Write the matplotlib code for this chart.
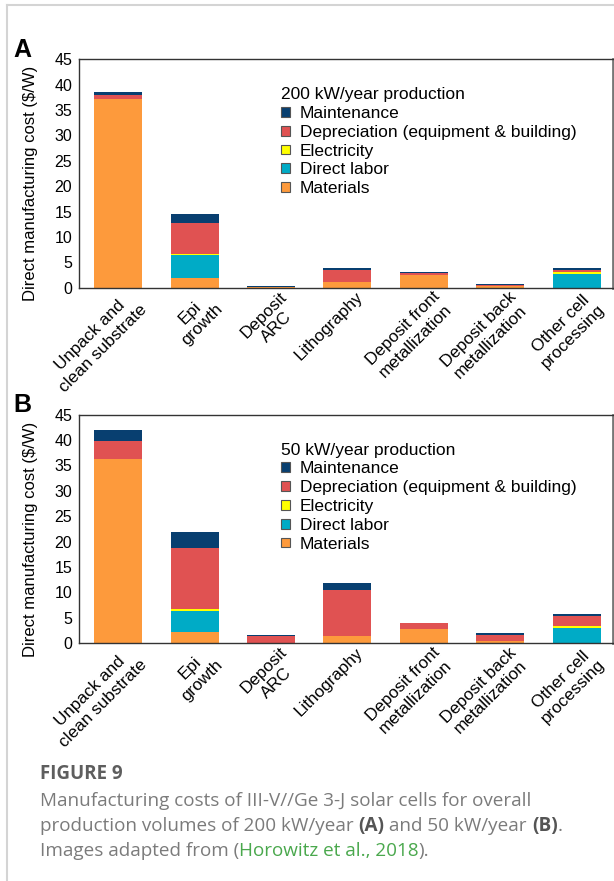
import matplotlib
matplotlib.use("Agg")
import matplotlib.pyplot as plt
from matplotlib.patches import Patch
from matplotlib.lines import Line2D
from matplotlib.transforms import ScaledTranslation
import numpy as np

plt.rcParams["font.family"] = ["Liberation Sans", "DejaVu Sans"]

categories = ["Unpack and\nclean substrate", "Epi\ngrowth", "Deposit\nARC", "Lithography",
              "Deposit front\nmetallization", "Deposit back\nmetallization", "Other cell\nprocessing"]

series = ["Materials", "Direct labor", "Electricity", "Depreciation (equipment & building)", "Maintenance"]
colors = ["#fd9a3c", "#00abc6", "#ffff00", "#e05252", "#083f70"]

# 200 kW/year production, $/W per step
a_materials = [37.2, 2.0, 0.05, 1.1, 2.6, 0.4, 0.0]
a_labor = [0.0, 4.4, 0.0, 0.0, 0.0, 0.0, 2.76]
a_electricity = [0.0, 0.2, 0.0, 0.0, 0.0, 0.0, 0.27]
a_depreciation = [0.8, 6.2, 0.15, 2.4, 0.2, 0.12, 0.39]
a_maintenance = [0.5, 1.7, 0.2, 0.4, 0.3, 0.2, 0.4]

# 50 kW/year production, $/W per step
b_materials = [36.3, 2.17, 0.0, 1.38, 2.76, 0.46, 0.0]
b_labor = [0.0, 4.2, 0.0, 0.0, 0.0, 0.0, 2.96]
b_electricity = [0.0, 0.33, 0.0, 0.0, 0.0, 0.0, 0.4]
b_depreciation = [3.6, 12.05, 1.38, 9.08, 1.24, 1.18, 2.04]
b_maintenance = [2.0, 3.15, 0.33, 1.44, 0.05, 0.33, 0.46]

W, H = 614, 881
fig = plt.figure(figsize=(W / 100, H / 100), dpi=100)


def px_axes(left, top, right, bottom):
    return fig.add_axes([left / W, 1 - bottom / H, (right - left) / W, (bottom - top) / H])


def draw_panel(ax, stacks, title, letter):
    x = np.arange(len(categories))
    base = np.zeros(len(categories))
    for vals, col in zip(stacks, colors):
        vals = np.array(vals)
        ax.bar(x, vals, 0.63, bottom=base, color=col, linewidth=0)
        base += vals
    ax.set_xlim(-0.51, 6.47)
    ax.set_ylim(0, 45)
    ax.set_yticks(range(0, 46, 5))
    ax.tick_params(axis="y", length=0, pad=5, labelsize=11.5)
    ax.tick_params(axis="x", length=0, pad=1)
    ax.set_xticks(x)
    ax.set_xticklabels(categories, rotation=45, ha="right", va="top",
                       rotation_mode="anchor", multialignment="center", fontsize=12.3)
    shift = ScaledTranslation(6 / 72, 0, fig.dpi_scale_trans)
    for lab in ax.get_xticklabels():
        lab.set_transform(lab.get_transform() + shift)
    for side in ["left", "bottom", "top"]:
        ax.spines[side].set_color("#333333")
        ax.spines[side].set_linewidth(1.0)
    ax.spines["right"].set_color("#777777")
    ax.spines["right"].set_linewidth(2.0)
    ax.set_ylabel("Direct manufacturing cost ($/W)", fontsize=12)
    ax.yaxis.set_label_coords(-0.077, 0.456)

    handles = [Patch(facecolor=c, edgecolor="#555555", linewidth=0.8)
               for c in colors[::-1]]
    ax.legend(handles, series[::-1], title=title, loc="upper left",
              bbox_to_anchor=(0.379, 0.878), frameon=False, fontsize=12.5,
              title_fontsize=12.5, handlelength=0.5, handleheight=0.5,
              handletextpad=0.55, labelspacing=0.22, borderpad=0,
              borderaxespad=0, alignment="left")
    ax.text(-0.124, 1.011, letter, transform=ax.transAxes, fontsize=18,
            fontweight="bold", ha="left", va="baseline")


ax_a = px_axes(79.3, 59.3, 612.5, 287.7)
draw_panel(ax_a, [a_materials, a_labor, a_electricity, a_depreciation, a_maintenance],
           "200 kW/year production", "A")

ax_b = px_axes(79.3, 414.7, 612.5, 643.3)
draw_panel(ax_b, [b_materials, b_labor, b_electricity, b_depreciation, b_maintenance],
           "50 kW/year production", "B")

# page frame lines
fig.add_artist(Line2D([7 / W, 613 / W], [1 - 5 / H, 1 - 5 / H], color="#d4d4d4", linewidth=1.5))
fig.add_artist(Line2D([7 / W, 7 / W], [0, 1 - 5 / H], color="#d4d4d4", linewidth=1.5))

# caption
cap_font = ["Open Sans", "DejaVu Sans"]
fig.text(40 / W, 1 - 774 / H, "FIGURE 9", fontsize=13.5, fontweight="bold",
         color="#5e5e5e", family=cap_font, va="center")

renderer = fig.canvas.get_renderer()


def text_runs(x0, y, runs):
    x = x0
    for s, color, weight in runs:
        t = fig.text(x / W, 1 - y / H, s, fontsize=13.6, color=color, fontweight=weight,
                     family=cap_font, va="center")
        x += t.get_window_extent(renderer).width


grey = "#7b7b7b"
green = "#4aa84d"
text_runs(40, 801, [("Manufacturing costs of III-V//Ge 3-J solar cells for overall", grey, "normal")])
text_runs(40, 826, [("production volumes of 200 kW/year ", grey, "normal"), ("(A)", "#555555", "bold"),
                    (" and 50 kW/year ", grey, "normal"), ("(B)", "#555555", "bold"),
                    (".", grey, "normal")])
text_runs(40, 851, [("Images adapted from (", grey, "normal"), ("Horowitz et al., 2018", green, "normal"),
                    (").", grey, "normal")])

fig.savefig("out.png", dpi=100)
